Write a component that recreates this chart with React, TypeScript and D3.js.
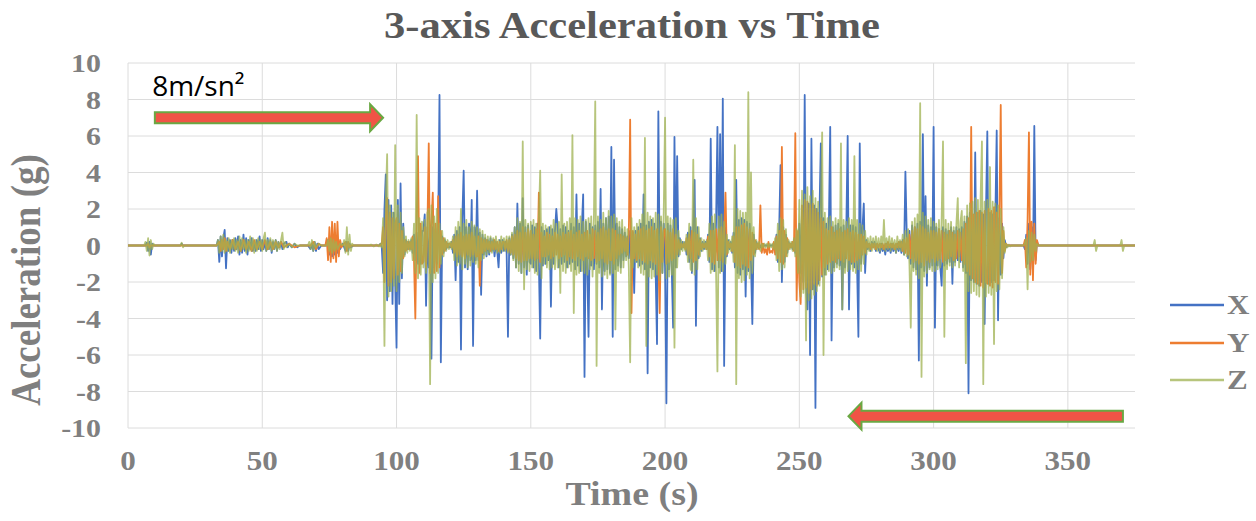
import React from 'react';
import * as d3 from 'd3';

const W = 1256;
const H = 521;

const chartTitle = '3-axis Acceleration vs Time';
const xTitle = 'Time (s)';
const yTitle = 'Acceleration (g)';
const xTicks = [0, 50, 100, 150, 200, 250, 300, 350];
const yTicks = [-10, -8, -6, -4, -2, 0, 2, 4, 6, 8, 10];
const seriesNames = ['X', 'Y', 'Z'];
const seriesColors = ['#4472c4', '#ed7d31', '#9fb250'];
const seriesOpacity = [1, 1, 0.75];

// annotation arrows (time from, time to, acceleration level) and label
const arrowNotes = [
  { from: 10, to: 95, at: 7.0 },
  { from: 370.5, to: 268.3, at: -9.35 },
];
const noteLabel = { t: 9, g: 8.2, text: '8m/sn\u00B2' };

// dense active period sampled every 0.5 s, rows keyed by start time
const STEP = 0.5;

const xPre: [number, number][] = [[0,0],[6.5,0],[7,0.15],[7.5,-0.3],[8,0.2],[8.5,-0.5],[9,0.1],[9.5,0],[19.5,0],[20,0.1],[20.5,0],[33,0],[33.5,0.3],[34,-0.9],[34.5,0.5],[35,-0.6],[35.5,0.4],[36,0.85],[36.5,-1.25],[37,0.4],[37.5,-0.3],[38,0.3],[38.5,-0.4],[39,0.3],[39.5,-0.3],[40,0.4],[40.5,-0.2],[41,0.5],[41.5,-0.5],[42,0.3],[42.5,-0.4],[43,0.6],[43.5,-0.3],[44,0.4],[44.5,-0.5],[45,0.3],[45.5,-0.2],[46,0.4],[46.5,-0.3],[47,0.2],[47.5,-0.3],[48,0.3],[48.5,-0.2],[49,0.5],[49.5,-0.3],[50,0.3],[50.5,-0.2],[51,0.2],[51.5,-0.3],[52,0.4],[52.5,-0.2],[53,0.3],[53.5,-0.4],[54,0.2],[54.5,-0.2],[55,0.3],[55.5,-0.3],[56,0.2],[56.5,-0.1],[57,0.2],[57.5,-0.2],[58,0.1],[59,0.2],[59.5,-0.1],[60,0.1],[61,-0.1],[62,0.1],[63,-0.1],[64,0],[67,0],[68,-0.2],[68.5,0.1],[69,-0.3],[69.5,0.2],[70,-0.3],[70.5,0.1],[71,-0.2],[72,0],[74,0],[74.5,0.3],[75,-0.5],[75.5,0.4],[76,-0.6],[76.5,0.3],[77,-0.5],[77.5,0.2],[78,-0.4],[78.5,0.1],[79,-0.2],[80,0.1],[81,-0.3],[81.5,0.2],[82,-0.3],[82.5,0.1],[83,-0.1],[84,0]];
const yPre: [number, number][] = [[0,0],[7,0],[7.5,0.1],[8,-0.1],[8.5,0],[33,0],[34,0.2],[34.5,-0.3],[35,0.3],[35.5,-0.2],[36,0.4],[36.5,-0.3],[37,0.2],[38,-0.2],[39,0.3],[40,-0.2],[41,0.2],[42,-0.3],[43,0.3],[44,-0.2],[45,0.2],[46,-0.3],[47,0.3],[48,-0.2],[49,0.2],[50,-0.2],[51,0.3],[52,-0.2],[53,0.2],[54,-0.2],[55,0.2],[56,-0.1],[57,0.2],[58,-0.1],[60,0.1],[62,-0.1],[64,0],[68,0],[69,0.2],[70,-0.2],[71,0.1],[72,0],[73.5,0],[74,0.4],[74.5,-0.8],[75,1.0],[75.5,-0.9],[76,1.3],[76.5,-0.7],[77,1.2],[77.5,-0.9],[78,1.3],[78.5,-0.6],[79,0.3],[79.5,-0.1],[80,0],[81,0.2],[81.5,-0.3],[82,0.2],[82.5,-0.1],[83,0]];
const zPre: [number, number][] = [[0,0],[6,0],[6.5,0.2],[7,-0.3],[7.5,0.4],[8,-0.55],[8.5,0.3],[9,-0.2],[9.5,0.1],[10,0],[19.5,0],[20,0.15],[20.5,-0.1],[21,0],[33,0],[33.5,0.3],[34,-0.4],[34.5,0.5],[35,-0.3],[35.5,0.6],[36,-0.4],[36.5,0.3],[37,-0.3],[37.5,0.4],[38,-0.4],[38.5,0.3],[39,-0.2],[39.5,0.4],[40,-0.3],[40.5,0.3],[41,-0.4],[41.5,0.5],[42,-0.3],[42.5,0.4],[43,-0.2],[43.5,0.3],[44,-0.4],[44.5,0.3],[45,-0.3],[45.5,0.5],[46,-0.3],[46.5,0.4],[47,-0.4],[47.5,0.3],[48,-0.3],[48.5,0.4],[49,-0.2],[49.5,0.3],[50,-0.3],[50.5,0.4],[51,0.7],[51.5,-0.3],[52,0.3],[52.5,-0.2],[53,0.4],[53.5,-0.3],[54,0.3],[54.5,-0.2],[55,0.3],[55.5,-0.3],[56,0.2],[56.5,-0.2],[57,0.3],[57.5,0.7],[58,-0.2],[58.5,0.2],[59,-0.1],[60,0.1],[61,-0.1],[62,0.1],[63,0],[67,0],[67.5,0.2],[68,-0.2],[68.5,0.3],[69,-0.3],[69.5,0.2],[70,-0.1],[71,0.1],[72,0],[74,0],[74.5,0.3],[75,-0.3],[75.5,0.4],[76,-0.4],[76.5,0.3],[77,-0.3],[77.5,0.2],[78,-0.2],[79,0.1],[80,0],[80.5,0.3],[81,-0.4],[81.5,1.0],[82,-0.5],[82.5,0.6],[83,-0.3],[83.5,0.1],[84,0]];

const xRows: [number, number[]][] = [
  [90, [0,0,0,0,0,0,0,0,0.1,-0.1,-1.5,2.0,3.9,-3.0,2.5,-2.5,2.2,-3.2,1.8,-2.0]],
  [100, [-5.6,2.5,-3.2,3.4,-1.8,1.2,-0.5,0.3,-0.2,0.2,-0.2,0.3,-0.4,0.6,-0.8,0.7,-1.0,1.2,-1.0,0.8]],
  [110, [0.8,1.7,-3.3,1.0,-1.2,0.8,-6.2,1.0,-1.2,0.9,-1.0,0.8,8.25,-6.4,0.5,-0.4,0.3,-0.2,0.1,-0.1]],
  [120, [-0.1,0.2,-0.4,0.6,-1.9,0.8,-0.9,1.0,-5.7,1.5,4.1,-1.2,1.0,-1.3,1.2,-0.8,2.5,-5.5,1.0,-0.8]],
  [130, [3.0,-0.8,0.7,-2.7,0.6,-0.5,0.4,-0.6,0.3,-0.5,0.4,-0.3,0.3,-0.6,0.2,-0.3,-1.2,0.3,-0.4,0.3]],
  [140, [-0.3,0.2,-0.4,-5.0,0.4,-0.5,0.6,-0.7,1.0,-1.2,2.3,-1.0,1.2,-1.5,2.6,-1.2,1.0,-1.6,1.1,-0.9]],
  [150, [-1.0,1.1,-1.2,1.0,-1.4,1.2,-0.9,-5.1,1.0,-1.1,0.8,-1.0,0.9,-0.8,1.0,-3.35,0.9,-1.0,0.8,2.0]],
  [160, [1.0,-1.2,0.9,-1.0,1.1,-0.9,1.0,-1.2,0.8,-1.0,1.2,-0.9,1.0,-1.3,2.8,-1.1,1.2,-1.4,1.0,2.8]],
  [170, [-7.2,1.3,-1.0,-5.0,1.2,-1.1,1.0,-1.3,1.1,-1.0,1.3,-1.2,3.1,-3.5,1.2,-1.4,1.5,-1.3,1.6,-1.5]],
  [180, [5.4,-5.0,4.7,-1.3,1.2,-1.1,1.0,-1.2,0.9,-0.8,0.7,-0.6,0.5,-0.7,0.8,-0.9,0.7,-2.6,0.8,-0.9]],
  [190, [1.0,-1.1,1.2,-1.0,2.8,-1.3,1.1,-7.0,1.3,-1.2,1.4,-1.3,1.2,-1.5,-5.4,7.35,-1.4,1.3,-1.5,1.2]],
  [200, [-1.2,-8.65,1.2,-1.3,1.1,-1.4,-4.5,5.95,-1.2,4.9,-0.6,0.4,-0.2,0.2,-0.1,0.2,-0.5,0.7,-0.9,1.0]],
  [210, [-1.5,1.1,3.6,-4.4,1.0,-0.7,0.4,-0.3,0.2,-0.2,0.2,-0.2,0.6,-0.9,5.85,-1.3,1.2,-1.4,1.3,6.5]],
  [220, [-1.2,6.1,-1.4,8.05,-6.6,1.0,-0.6,0.3,-0.2,0.2,-0.4,0.7,-1.2,3.6,-1.5,1.4,-1.6,1.5,-1.3,1.4]],
  [230, [-2.8,1.3,-1.4,1.2,-1.0,-4.3,0.6,-0.4,0.2,-0.1,0.1,-0.1,0,0,0,0,0,0,0,0]],
  [240, [0,0.1,-0.3,0.6,-0.9,1.0,4.4,-2.0,1.0,-0.9,0.6,-0.4,0.2,-0.1,0.1,-0.2,0.3,-0.4,0.6,-1.0]],
  [250, [1.2,-1.5,1.8,-2.0,8.25,-2.2,-3.5,2.3,-6.0,5.85,-2.4,2.2,-8.9,2.0,-2.1,1.8,5.6,-1.7,1.5,-1.6]],
  [260, [1.2,-1.3,1.1,6.5,-5.2,1.0,-1.2,1.1,-1.0,1.2,-1.1,1.0,-3.5,1.1,-1.2,1.0,6.0,-3.5,1.1,-1.0]],
  [270, [1.1,-1.2,1.0,-1.1,-5.0,5.6,-1.0,0.9,2.3,-1.5,0.3,-0.2,0.1,-0.3,0.2,-0.1,0.2,-0.3,0.1,-0.2]],
  [280, [-0.4,0.1,-0.3,0,-0.5,0.1,-0.3,0,-0.4,0.1,-0.3,0,-0.4,0.1,-0.3,0.2,-0.4,0.3,-0.5,4.05]],
  [290, [0.6,-0.7,0.8,-1.0,1.1,-1.2,1.0,-1.3,1.2,-6.3,1.3,-1.2,6.1,-1.4,2.7,-2.2,1.1,-1.2,1.0,-1.1]],
  [300, [6.5,-4.5,1.0,-1.1,0.9,-1.2,-2.2,1.0,-1.1,0.9,-1.0,0.8,-0.9,1.0,-2.1,0.8,-0.9,1.0,-0.8,0.9]],
  [310, [-0.9,1.0,-1.2,1.3,-1.5,1.6,-8.1,1.8,-1.9,1.7,-2.0,5.1,-2.1,1.8,-2.2,1.9,-2.0,1.7,-4.3,1.8]],
  [320, [6.25,-2.1,1.8,-2.0,1.7,-1.9,1.6,6.3,-4.1,1.5,-1.6,1.2,-0.7,0.3,-0.1,0,0,0,0,0]],
  [330, [0,0,0,0,0,0,0,0,-0.2,0.6,-1.0,1.2,-1.3,1.0,-1.2,6.55,-0.8,0.2,0,0]],
];

const yRows: [number, number[]][] = [
  [90, [0,0,0,0,0,0,0,0,0,0.1,1.0,-2.0,1.5,2.6,-2.2,1.8,-2.0,1.5,-1.8,1.2]],
  [100, [1.5,-1.6,1.2,-1.4,0.8,-0.7,0.3,-0.3,0.2,-0.2,0.2,-0.2,0.5,-0.8,-4.0,1.5,4.9,-1.5,1.2,-1.0]],
  [110, [-0.9,1.0,-1.2,1.0,5.6,-1.5,1.2,2.9,-1.5,1.2,-1.4,2.7,-1.2,0.8,-0.5,0.4,-0.3,0.2,-0.1,0.1]],
  [120, [0.1,-0.1,0.3,-0.4,0.5,-0.6,0.6,-0.5,0.7,-0.6,0.5,-0.7,0.6,-0.5,0.6,-0.6,0.7,-0.5,0.5,-0.6]],
  [130, [-0.6,0.5,-2.2,0.4,-0.4,0.3,-0.3,0.3,-0.2,0.2,-0.3,0.2,-0.2,0.3,-0.2,0.2,-0.3,0.2,-0.2,0.2]],
  [140, [0.2,-0.2,0.3,-0.3,0.3,-0.4,0.5,-0.5,0.6,-0.7,0.8,-0.8,0.7,-0.9,1.0,-0.8,0.7,-0.8,0.9,-0.7]],
  [150, [0.8,-0.7,0.6,-0.8,0.9,-0.7,2.9,-0.9,0.7,-0.6,0.5,-0.6,0.7,-0.5,0.6,-0.7,0.5,-0.6,0.7,-0.5]],
  [160, [0.6,-0.7,0.5,-0.6,0.7,-0.5,0.6,-0.8,0.7,-0.6,0.8,-0.7,0.6,-0.8,0.7,-0.6,0.8,-0.7,0.6,-0.8]],
  [170, [0.7,-0.6,0.8,-0.7,0.6,-0.8,0.9,-0.7,0.8,-0.9,0.7,-0.8,0.9,-0.7,1.0,-0.9,0.8,-1.0,0.9,-0.8]],
  [180, [-0.8,0.9,-1.0,0.8,-0.7,0.6,-0.5,0.6,-0.4,0.5,-0.3,0.4,-0.5,0.6,6.9,-3.7,0.8,-0.7,0.6,-0.8]],
  [190, [0.8,-0.7,0.9,-0.8,1.0,-0.9,0.8,-1.0,0.9,-0.8,1.0,-0.9,0.8,-1.0,0.9,-0.8,-3.7,1.0,-0.9,0.8]],
  [200, [0.9,-1.0,0.8,-0.9,0.7,-0.8,0.9,-0.7,0.6,-0.5,0.3,-0.2,0.1,-0.1,0.1,-0.2,0.4,-0.5,0.6,-0.7]],
  [210, [0.8,-0.9,0.7,-0.8,0.6,-0.5,0.3,-0.2,0.1,-0.1,0.1,-0.2,0.5,-0.6,0.8,-0.9,0.8,-1.0,0.9,-0.8]],
  [220, [0.9,-0.8,1.0,-0.9,0.7,2.9,-0.5,0.2,-0.1,0.1,-0.3,0.5,-0.9,1.0,-1.1,1.0,-1.2,1.1,-1.0,1.2]],
  [230, [-1.1,1.0,-1.2,0.9,-0.8,0.7,-0.5,0.3,-0.2,0.1,-0.2,2.2,-0.4,0.1,-0.4,-0.2,-0.5,0.2,-0.4,-0.3]],
  [240, [-0.4,0.2,-0.5,0.5,-0.7,0.8,-0.9,5.4,-1.0,0.8,-0.6,0.4,-0.2,0.1,-0.1,0.2,-0.3,6.15,-3.0,0.8]],
  [250, [-2.0,-3.2,2.2,-2.4,2.5,-2.3,2.4,-2.6,2.2,-2.4,2.3,-2.1,2.0,-2.2,1.8,-1.9,1.5,-1.6,1.3,-1.2]],
  [260, [0.9,-1.0,0.8,-0.9,1.0,-0.8,0.7,-0.9,0.8,-0.7,0.9,-0.8,0.7,-0.9,0.8,-0.7,0.9,-0.8,0.7,-0.9]],
  [270, [0.8,-0.9,0.7,-0.8,0.6,-0.7,0.6,-0.5,0.5,-0.4,0.2,-0.1,0.1,-0.2,0.1,-0.1,0.1,-0.2,0.1,-0.1]],
  [280, [0.1,-0.1,0.1,-0.2,0.1,-0.1,0.2,-0.1,0.1,-0.1,0.1,-0.2,0.1,-0.1,0.2,-0.1,0.2,-0.3,0.3,-0.4]],
  [290, [0.4,-0.5,0.6,-0.7,0.8,-0.9,1.0,-0.8,0.9,-1.0,1.1,-0.9,1.0,-1.1,0.9,-0.8,0.7,-0.9,0.8,-0.7]],
  [300, [0.8,-0.9,0.7,-0.8,0.9,-0.7,0.8,-0.9,0.7,-0.8,0.6,-0.7,0.8,-0.6,0.7,-0.8,0.6,-0.7,0.8,-0.6]],
  [310, [0.7,-0.8,0.9,-1.0,1.2,-1.4,1.5,-1.6,6.5,-1.8,1.7,-2.0,1.8,-2.1,1.9,-2.2,1.8,-2.3,1.9,-2.0]],
  [320, [-2.1,2.0,-2.2,1.9,-2.3,2.1,-2.0,1.8,-2.1,1.7,7.7,-1.5,0.8,-0.3,0.1,0,0,0,0,0]],
  [330, [0,0,0,0,0,0,0,0,0.3,-1.2,1.4,6.2,-1.6,1.3,-1.9,1.2,-1.0,0.3,0,0]],
];

const zRows: [number, number[]][] = [
  [90, [0,0.05,0,-0.05,0,0.05,0,-0.05,0.1,-0.1,1.5,-5.5,2.5,5.0,-2.8,2.2,-2.5,1.8,-2.2,5.5]],
  [100, [-2.5,2.2,-2.0,1.8,-1.5,1.0,-0.6,0.5,-0.4,0.3,-0.3,0.4,-0.8,1.2,-1.5,7.15,-1.8,1.5,-1.6,1.3]],
  [110, [-1.2,1.4,-1.5,1.8,2.0,-7.6,2.2,-2.0,1.6,-1.8,2.0,-1.5,1.2,-1.0,0.8,-0.6,0.4,-0.3,0.3,-0.2]],
  [120, [0.2,-0.2,0.5,-0.8,1.0,-1.1,1.3,-1.0,2.0,-1.3,1.2,-1.0,1.4,-1.2,1.0,-1.1,1.3,-0.9,1.1,-1.0]],
  [130, [1.0,-1.2,0.9,-0.8,0.8,-0.7,0.6,-0.5,0.5,-0.4,0.5,-0.4,0.4,-0.3,0.5,-0.4,0.3,-0.4,0.5,-0.3]],
  [140, [0.4,-0.3,0.5,-0.4,0.5,-0.5,0.7,-0.8,1.0,-1.2,1.5,-1.4,1.3,-1.5,5.7,-2.4,1.4,-1.3,1.2,-1.4]],
  [150, [1.3,-1.2,1.4,-1.5,1.2,-1.6,1.5,4.1,-1.8,1.2,-1.0,1.1,-1.2,1.0,-1.3,1.1,-1.2,1.4,-1.3,1.2]],
  [160, [-1.2,1.3,-2.6,3.9,-1.4,1.2,-1.5,1.3,-1.2,1.5,-1.4,6.05,-3.7,1.5,-1.6,1.4,-1.5,1.6,-1.4,1.3]],
  [170, [-1.5,1.4,-1.6,1.5,-1.3,1.6,-1.7,1.5,7.9,-6.6,1.6,-1.5,1.4,-1.7,1.8,-1.6,1.5,-1.8,1.9,-1.6]],
  [180, [1.6,-1.5,1.7,-4.6,1.5,-1.4,1.3,-1.5,1.4,-1.2,1.0,-0.8,0.9,-1.2,-6.4,1.5,-1.2,1.0,-0.9,1.2]],
  [190, [-1.2,1.4,-1.5,1.7,-1.6,5.9,-5.5,1.8,-1.7,1.6,-1.8,1.5,-1.7,1.8,-1.6,1.7,-1.9,1.6,-1.5,1.8]],
  [200, [7.0,-1.8,1.6,-1.7,1.5,-1.6,1.4,-5.6,1.5,-1.2,0.8,-0.5,0.3,-0.3,0.2,-0.3,0.6,-0.9,1.2,-1.3]],
  [210, [-1.4,4.7,-1.6,1.5,-1.3,1.0,-0.6,0.4,-0.3,0.3,-0.2,0.3,-0.8,1.2,-1.5,1.6,-1.4,1.7,-1.5,-6.9]],
  [220, [1.6,-1.5,1.7,-1.4,1.3,-1.0,0.6,-0.4,0.3,-0.3,0.5,-0.9,5.5,-7.6,2.0,-1.8,1.9,-2.0,1.8,-1.9]],
  [230, [1.8,-1.6,8.4,-1.8,4.0,-1.5,1.0,-0.6,0.3,-0.2,0.2,-0.3,0.1,-0.1,0.1,-0.1,0.1,-0.1,0.1,-0.1]],
  [240, [0.1,-0.2,0.4,-0.8,1.2,-1.4,1.5,-1.3,1.4,-1.2,0.9,-0.6,0.3,-0.2,0.2,-0.3,0.4,-0.6,0.9,-1.5]],
  [250, [2.5,-2.8,3.0,-2.6,2.8,-5.2,3.2,-3.0,2.7,-2.9,3.0,-2.7,2.6,-2.5,2.4,-2.2,2.0,6.2,-6.0,1.8]],
  [260, [-1.6,1.5,-1.4,1.6,-1.5,1.3,-1.4,1.5,-1.2,1.4,-1.3,5.6,-3.5,1.4,-1.5,1.3,-1.4,1.5,-1.3,1.4]],
  [270, [-1.4,4.9,-1.5,1.4,-1.3,1.2,-1.4,1.1,-1.0,0.8,-0.5,0.4,-0.3,0.5,-0.3,0.4,-0.2,0.5,-0.3,0.4]],
  [280, [-0.3,0.5,-0.2,1.4,-0.3,0.4,-0.2,0.5,-0.3,0.4,-0.2,0.3,-0.4,0.5,-0.2,0.3,-0.3,0.6,-0.5,0.8]],
  [290, [-0.6,0.9,-1.0,-4.5,1.3,-1.4,1.5,-1.6,1.7,-1.8,7.8,-7.2,1.8,-1.7,1.6,-1.5,1.4,-1.3,1.5,-1.4]],
  [300, [1.3,-1.4,1.2,-1.3,1.4,-1.2,1.5,5.7,-5.0,1.4,-1.3,1.2,-1.1,1.3,-1.2,1.0,-1.1,1.2,2.6,-1.2]],
  [310, [1.3,1.9,-1.4,1.6,-6.45,2.2,-2.5,2.3,-2.6,2.4,-2.5,2.6,-2.7,2.5,-2.8,2.6,5.7,-7.6,2.4,-2.8]],
  [320, [2.5,-2.6,4.3,-2.7,2.4,-5.4,2.3,-2.5,2.2,-2.4,2.0,-1.8,1.0,-0.4,0.1,-0.1,0.05,-0.05,0,0]],
  [330, [0,0,0,0,0,0,0,0,0.1,0.4,-2.4,0.8,-0.9,0.7,-0.8,0.6,-0.3,0.1,0,0]],
];

const xPost: [number, number][] = [[340,0],[375,0]];
const yPost: [number, number][] = [[340,0],[375,0]];
const zPost: [number, number][] = [[340,0],[359.5,0],[360,0.3],[360.5,-0.3],[361,0],[369.5,0],[370,0.3],[370.5,-0.3],[371,0],[375,0]];

function build(pre: [number, number][], rows: [number, number[]][], post: [number, number][]) {
  const pts: [number, number][] = pre.map((p) => [p[0], p[1]] as [number, number]);
  rows.forEach(([t0, vals]) => {
    vals.forEach((v, i) => pts.push([t0 + i * STEP, v]));
  });
  post.forEach((p) => pts.push([p[0], p[1]]));
  return pts;
}

const seriesData = [
  build(xPre, xRows, xPost),
  build(yPre, yRows, yPost),
  build(zPre, zRows, zPost),
];

const SERIF = '"Liberation Serif", "Times New Roman", serif';
const SX = 1.15;

export default function App() {
  const x = d3.scaleLinear().domain([0, 375]).range([128, 1135]);
  const y = d3.scaleLinear().domain([-10, 10]).range([428, 63]);
  const line = d3
    .line<[number, number]>()
    .x((d) => x(d[0]))
    .y((d) => y(d[1]));

  const arrowPath = (t0: number, t1: number, g: number) => {
    const x0 = x(t0);
    const x1 = x(t1);
    const yc = y(g);
    const dir = x1 > x0 ? 1 : -1;
    const sh = 5.5;
    const hh = 13.5;
    const hl = 13 * dir;
    const p = d3.path();
    p.moveTo(x0, yc - sh);
    p.lineTo(x1 - hl, yc - sh);
    p.lineTo(x1 - hl, yc - hh);
    p.lineTo(x1, yc);
    p.lineTo(x1 - hl, yc + hh);
    p.lineTo(x1 - hl, yc + sh);
    p.lineTo(x0, yc + sh);
    p.closePath();
    return p.toString();
  };

  const legendY = [305, 343, 380];

  return (
    <svg
      width={W}
      height={H}
      style={{ position: 'absolute', left: 0, top: 0, background: '#fff' }}
    >
      <rect x={0} y={0} width={W} height={H} fill="#fff" />
      {/* gridlines */}
      {yTicks.map((t) => (
        <line key={'gy' + t} x1={x(0)} x2={x(375)} y1={y(t)} y2={y(t)} stroke="#dcdcdc" strokeWidth={1} />
      ))}
      {xTicks.map((t) => (
        <line key={'gx' + t} x1={x(t)} x2={x(t)} y1={y(10)} y2={y(-10)} stroke="#dcdcdc" strokeWidth={1} />
      ))}

      {/* series */}
      {seriesData.map((d, i) => (
        <path
          key={seriesNames[i]}
          d={line(d) || ''}
          fill="none"
          stroke={seriesColors[i]}
          strokeOpacity={seriesOpacity[i]}
          strokeWidth={1.8}
          strokeLinejoin="round"
        />
      ))}

      {/* y tick labels */}
      {yTicks.map((t) => (
        <g key={'ty' + t} transform={`translate(101,${y(t)})`}>
          <text
            transform={`scale(${SX},1)`}
            textAnchor="end"
            dy="0.35em"
            fontFamily={SERIF}
            fontWeight="bold"
            fontSize={26}
            fill="#808080"
          >
            {String(t)}
          </text>
        </g>
      ))}
      {/* x tick labels */}
      {xTicks.map((t) => (
        <g key={'tx' + t} transform={`translate(${x(t)},470)`}>
          <text
            transform={`scale(${SX},1)`}
            textAnchor="middle"
            fontFamily={SERIF}
            fontWeight="bold"
            fontSize={27}
            fill="#808080"
          >
            {String(t)}
          </text>
        </g>
      ))}

      {/* titles */}
      <g transform="translate(632,38)">
        <text transform={`scale(${SX},1)`} textAnchor="middle" fontFamily={SERIF} fontWeight="bold" fontSize={37} fill="#595959">
          {chartTitle}
        </text>
      </g>
      <g transform="translate(632,505)">
        <text transform={`scale(${SX},1)`} textAnchor="middle" fontFamily={SERIF} fontWeight="bold" fontSize={33} fill="#7f7f7f">
          {xTitle}
        </text>
      </g>
      <g transform="translate(40,280)">
        <text transform={`scale(${SX},1) rotate(-90)`} textAnchor="middle" fontFamily={SERIF} fontWeight="bold" fontSize={37} fill="#7f7f7f">
          {yTitle}
        </text>
      </g>

      {/* legend */}
      {seriesNames.map((n, i) => (
        <g key={'lg' + n}>
          <line x1={1170} x2={1224} y1={legendY[i]} y2={legendY[i]} stroke={seriesColors[i]} strokeOpacity={seriesOpacity[i]} strokeWidth={2.5} />
          <g transform={`translate(1227,${legendY[i]})`}>
            <text transform={`scale(${SX},1)`} dy="0.35em" fontFamily={SERIF} fontWeight="bold" fontSize={27} fill="#7f7f7f">
              {n}
            </text>
          </g>
        </g>
      ))}

      {/* annotations */}
      {arrowNotes.map((a, i) => (
        <path key={'ar' + i} d={arrowPath(a.from, a.to, a.at)} fill="#f05446" stroke="#6aa843" strokeWidth={2} strokeLinejoin="miter" />
      ))}
      <text x={x(noteLabel.t)} y={y(noteLabel.g)} fontFamily='"Open Sans", "Noto Sans", sans-serif' fontSize={28} fill="#000">
        {noteLabel.text}
      </text>
    </svg>
  );
}
